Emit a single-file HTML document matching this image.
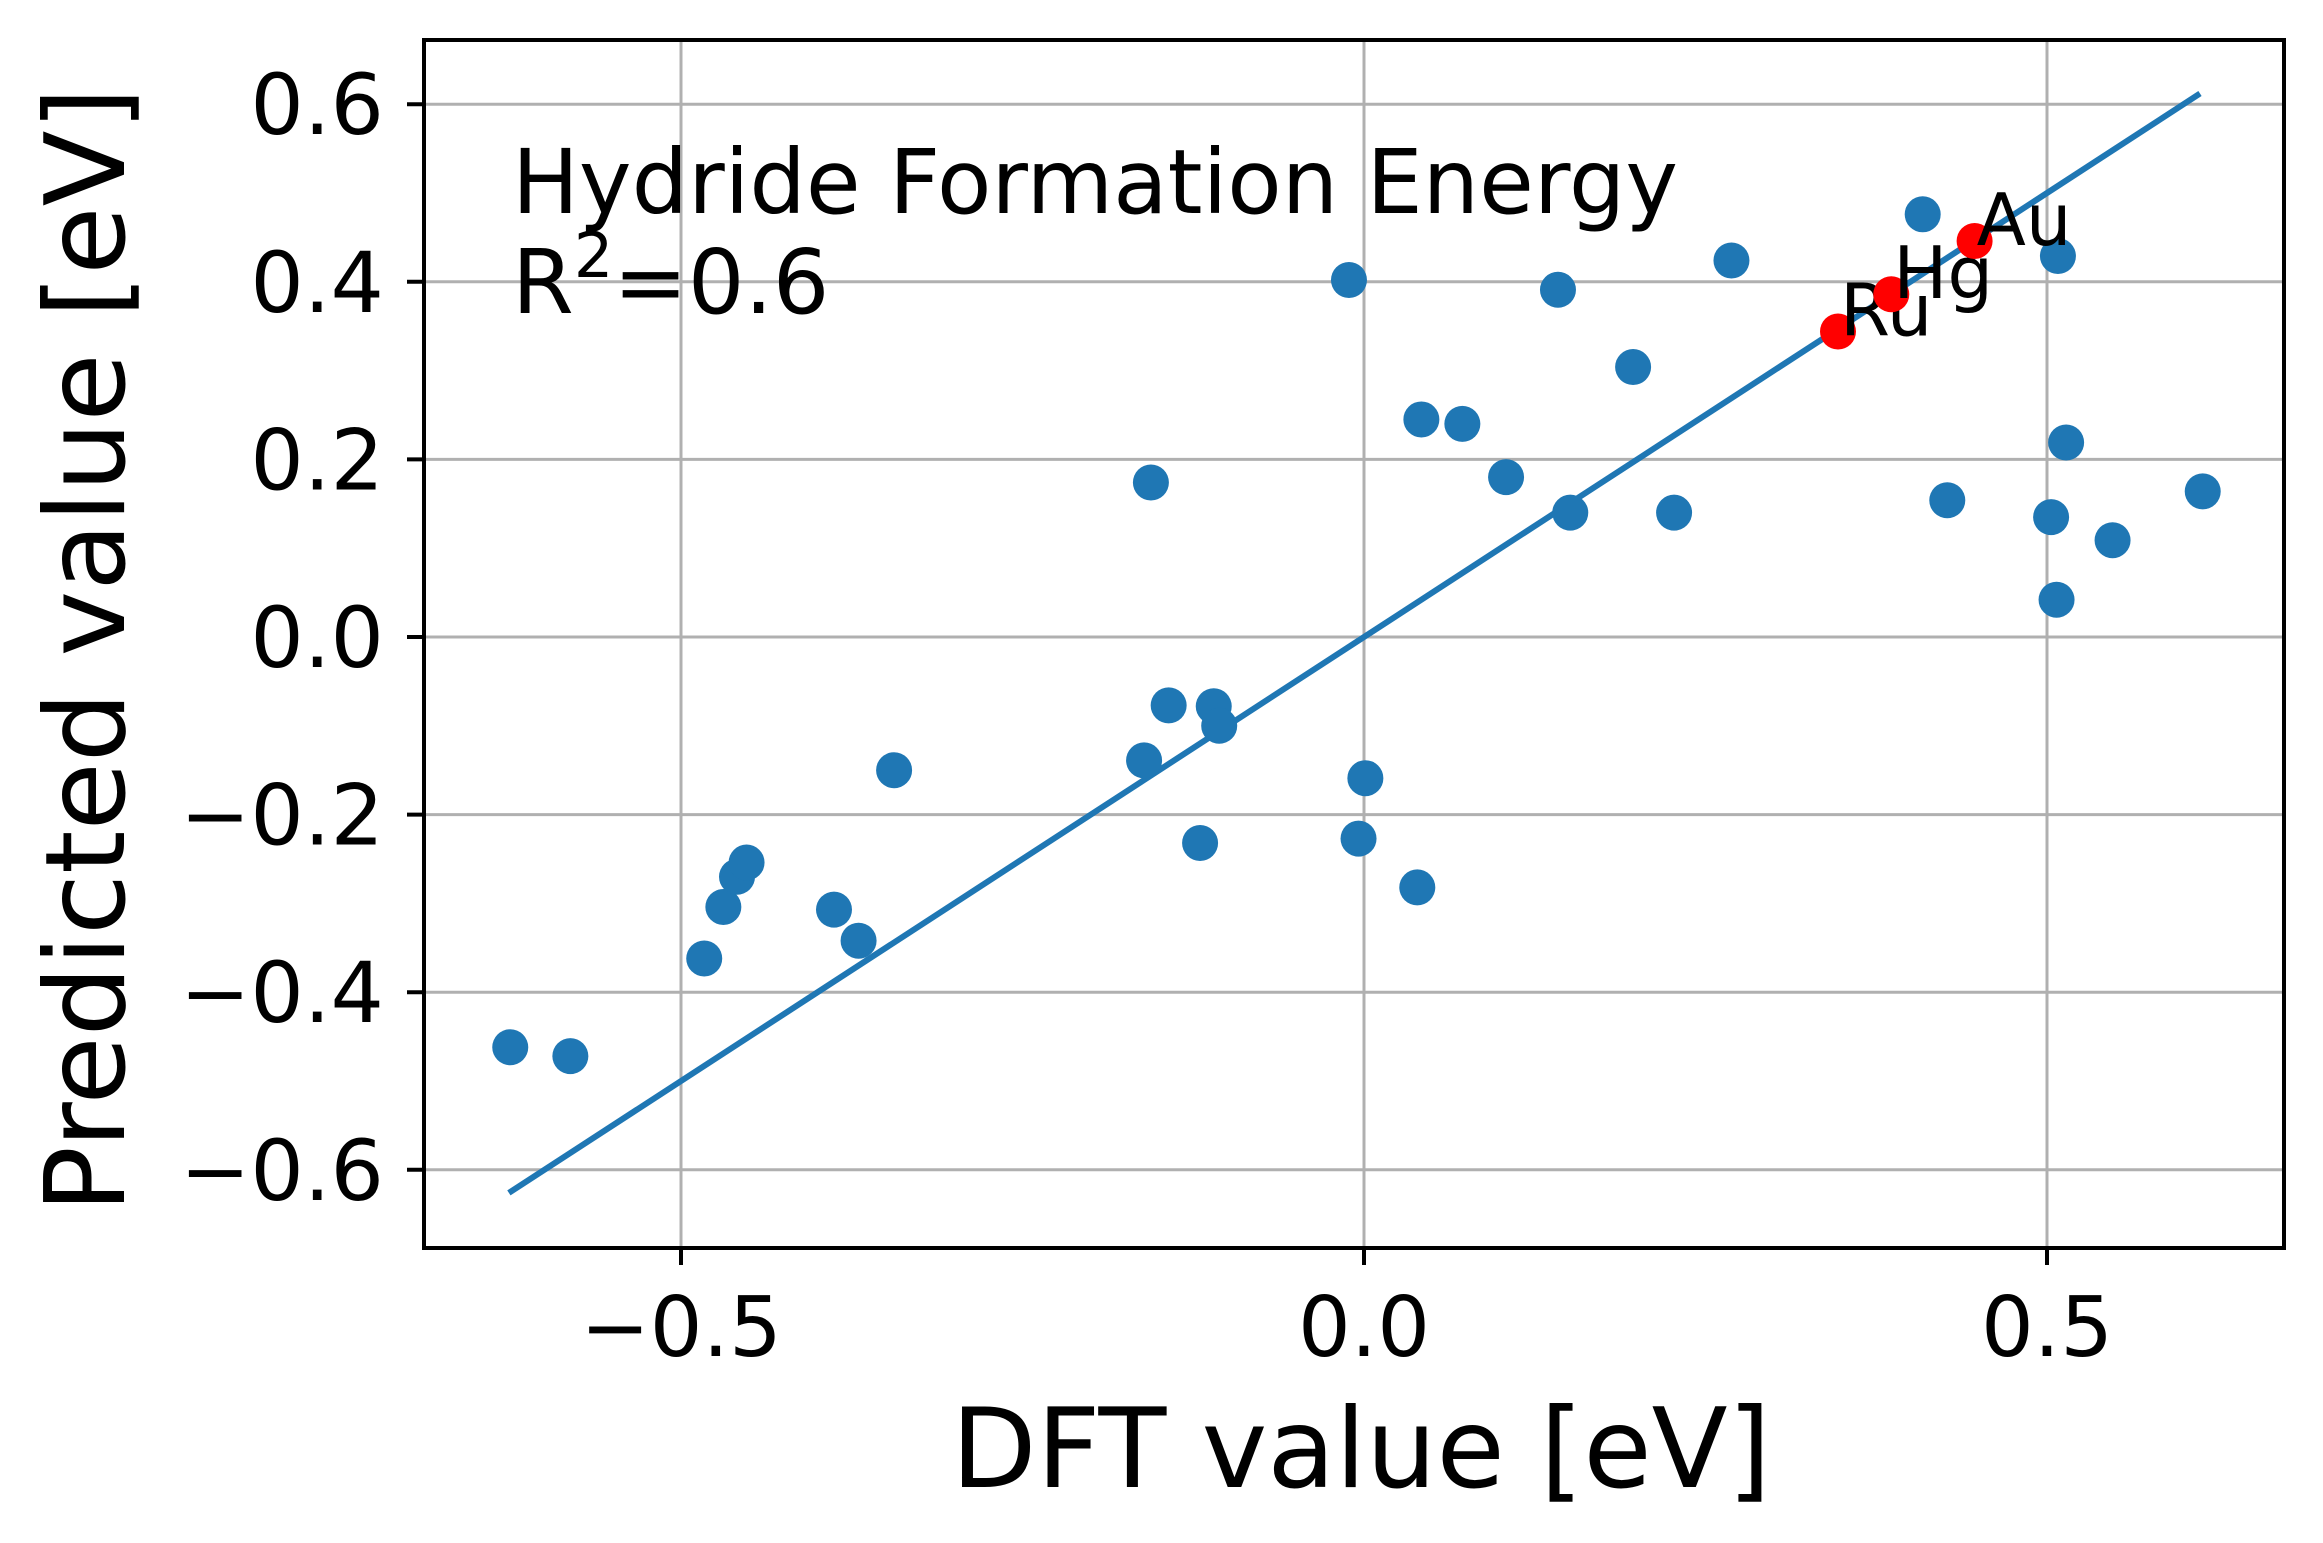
<!DOCTYPE html>
<html><head><meta charset="utf-8"><style>
html,body{margin:0;padding:0;background:#fff;}
svg{display:block;font-family:"DejaVu Sans","Liberation Sans",sans-serif;}
</style></head>
<body>
<svg id="chart" width="2323" height="1543" viewBox="0 0 2323 1543" xmlns="http://www.w3.org/2000/svg">
<rect x="0" y="0" width="2323" height="1543" fill="#fff"/>
<g id="grid"></g>
<g id="fitline"></g>
<g id="points"></g>
<g id="highlight"></g>
<rect x="424" y="40" width="1860" height="1208" fill="none" stroke="#000" stroke-width="4"/>
<g id="ticks"></g>
<text x="512" y="213" font-size="89">Hydride Formation Energy</text>
<text x="512" y="313" font-size="89">R<tspan dy="-36" font-size="62">2</tspan><tspan dy="36">=0.6</tspan></text>
<text x="1361" y="1487" font-size="111" text-anchor="middle">DFT value [eV]</text>
<text x="0" y="0" font-size="111" text-anchor="middle" transform="translate(124,650) rotate(-90)">Predicted value [eV]</text>
</svg>
<script>
const xVals = [-0.625,-0.581,-0.483,-0.469,-0.459,-0.452,-0.388,-0.370,-0.344,-0.161,-0.143,-0.156,-0.120,-0.110,-0.106,-0.011,-0.004,0.001,0.039,0.042,0.072,0.104,0.142,0.151,0.197,0.227,0.269,0.409,0.427,0.503,0.507,0.508,0.514,0.548,0.614];
const yVals = [-0.462,-0.472,-0.362,-0.304,-0.270,-0.254,-0.307,-0.342,-0.150,-0.139,-0.077,0.174,-0.232,-0.078,-0.100,0.402,-0.227,-0.159,-0.282,0.245,0.240,0.180,0.391,0.140,0.304,0.140,0.424,0.476,0.154,0.135,0.042,0.429,0.219,0.109,0.164];
const hlNames = ["Ru","Hg","Au"];
const hlX = [0.347,0.386,0.447];
const hlY = [0.344,0.386,0.446];
const lineRange = [-0.626,0.612];
const xTicks = [-0.5,0.0,0.5];
const xTickLabels = ["\u22120.5","0.0","0.5"];
const yTicks = [-0.6,-0.4,-0.2,0.0,0.2,0.4,0.6];
const yTickLabels = ["\u22120.6","\u22120.4","\u22120.2","0.0","0.2","0.4","0.6"];

const L=424,R=2284,T=40,B=1248;
function sx(v){return 1364+v*1366;}
function sy(v){return 637-v*888;}
const NS="http://www.w3.org/2000/svg";
function mk(tag,attrs,parent){const e=document.createElementNS(NS,tag);for(const k in attrs)e.setAttribute(k,attrs[k]);parent.appendChild(e);return e;}
const grid=document.getElementById('grid'),ticks=document.getElementById('ticks');
xTicks.forEach((v,i)=>{
  const g=mk('line',{x1:sx(v),x2:sx(v),y1:T,y2:B,stroke:'#b0b0b0','stroke-width':3},grid);
  
  
  const t=mk('line',{x1:sx(v),x2:sx(v),y1:B,y2:B+17,stroke:'#000','stroke-width':4},ticks);
  
  
  const l=mk('text',{x:sx(v),y:1356,'font-size':83,'text-anchor':'middle'},ticks);
  l.textContent=xTickLabels[i];
  
  
});
yTicks.forEach((v,i)=>{
  const g=mk('line',{x1:L,x2:R,y1:sy(v),y2:sy(v),stroke:'#b0b0b0','stroke-width':3},grid);
  
  
  const t=mk('line',{x1:L-17,x2:L,y1:sy(v),y2:sy(v),stroke:'#000','stroke-width':4},ticks);
  
  
  const l=mk('text',{x:384,y:sy(v)+30,'font-size':84,'text-anchor':'end'},ticks);
  l.textContent=yTickLabels[i];
  
  
});
const ln=mk('line',{x1:sx(lineRange[0]),y1:sy(lineRange[0]),x2:sx(lineRange[1]),y2:sy(lineRange[1]),stroke:'#1f77b4','stroke-width':6},document.getElementById('fitline'));


const pg=document.getElementById('points');
xVals.forEach((v,i)=>{
  const c=mk('circle',{cx:sx(v),cy:sy(yVals[i]),r:18,fill:'#1f77b4'},pg);
  
  
});
const hg=document.getElementById('highlight');
hlX.forEach((v,i)=>{
  const c=mk('circle',{cx:sx(v),cy:sy(hlY[i]),r:18,fill:'#ff0000'},hg);
  
  
  const t=mk('text',{x:sx(v)+2,y:sy(hlY[i])+4,'font-size':72},hg);
  t.textContent=hlNames[i];
  
  
});
</script>
</body></html>
